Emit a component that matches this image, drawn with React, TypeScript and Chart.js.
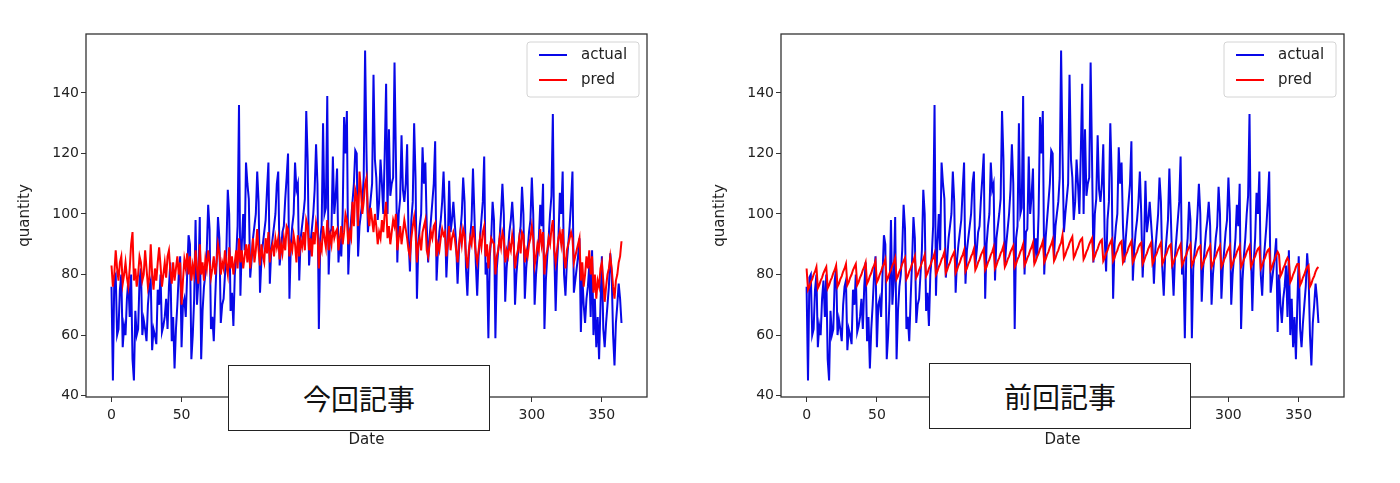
import React, { useEffect, useRef } from "react";
import { Chart, registerables } from "chart.js";

Chart.register(...registerables);

// ---------- data ----------
const DAYS: number[] = Array.from({ length: 365 }, (_, i) => i);
const X_TICKS = [0, 50, 100, 150, 200, 250, 300, 350];
const Y_TICKS = [40, 60, 80, 100, 120, 140];
const SERIES_LABELS = ["actual", "pred"];
const BOX_LABELS = ["今回記事", "前回記事"];

const ACTUAL = [
  76, 45, 79, 80, 60, 62, 75,
  80, 56, 63, 60, 72, 78, 66,
  80, 52, 45, 68, 60, 62, 78,
  82, 60, 65, 62, 58, 70, 76,
  78, 55, 62, 60, 57, 75, 70,
  80, 61, 63, 66, 72, 62, 76,
  84, 58, 66, 49, 62, 70, 80,
  86, 56, 70, 72, 66, 80, 93,
  90, 52, 60, 72, 98, 70, 78,
  99, 52, 68, 76, 80, 88, 103,
  95, 62, 66, 58, 72, 84, 99,
  92, 64, 70, 72, 80, 88, 108,
  100, 68, 74, 63, 80, 86, 96,
  136, 73, 90, 100, 88, 117, 110,
  105, 79, 85, 92, 96, 100, 114,
  104, 74, 85, 90, 94, 98, 108,
  117, 77, 88, 92, 96, 100, 110,
  114, 83, 88, 94, 96, 105, 112,
  120, 72, 90, 96, 100, 117, 108,
  110, 78, 92, 96, 100, 105, 134,
  118, 83, 90, 95, 100, 108, 123,
  110, 62, 92, 96, 130, 100, 102,
  139, 80, 94, 95, 119, 100, 106,
  115, 84, 92, 86, 100, 132, 120,
  134, 80, 92, 98, 104, 110, 121,
  120, 86, 96, 100, 104, 112, 154,
  120, 94, 100, 105, 110, 146, 118,
  112, 98, 104, 118, 110, 100, 120,
  143, 100, 128, 106, 110, 112, 150,
  118, 84, 100, 105, 126, 108, 104,
  110, 123, 92, 81, 98, 104, 130,
  112, 72, 90, 96, 100, 122, 110,
  117, 96, 84, 92, 98, 104, 110,
  124, 78, 88, 94, 98, 104, 114,
  100, 79, 90, 111, 94, 98, 104,
  97, 90, 77, 88, 94, 100, 112,
  104, 82, 73, 86, 92, 98, 115,
  100, 84, 73, 86, 92, 98, 104,
  119, 80, 84, 59, 86, 92, 104,
  98, 59, 82, 88, 92, 100, 110,
  100, 71, 82, 88, 94, 98, 104,
  96, 70, 80, 86, 92, 96, 109,
  100, 72, 82, 88, 94, 98, 112,
  100, 70, 80, 86, 92, 103, 96,
  110, 62, 78, 86, 92, 100, 106,
  133, 88, 68, 84, 92, 107, 100,
  114, 80, 73, 84, 90, 96, 104,
  114, 74, 78, 82, 86, 92, 61,
  80, 70, 64, 72, 76, 83, 66,
  88, 60, 72, 56, 66, 52, 70,
  86, 62, 56, 64, 70, 76, 87,
  80, 60, 50, 64, 70, 77, 72,
  64,
];

// prediction of the current article (left panel)
const PRED_NEW = [
  83, 76, 80, 88, 82, 78, 84,
  86, 77, 80, 84, 79, 76, 82,
  90, 94, 78, 82, 76, 80, 86,
  84, 78, 80, 88, 82, 76, 79,
  90, 80, 75, 82, 78, 84, 89,
  83, 76, 80, 84, 79, 86, 88,
  81, 77, 84, 78, 82, 86, 80,
  84, 70, 78, 85, 82, 87, 80,
  86, 78, 83, 80, 88, 82, 77,
  90, 80, 84, 78, 85, 82, 88,
  84, 79, 82, 86, 80, 84, 90,
  87, 80, 84, 82, 88, 83, 80,
  89, 82, 86, 80, 84, 88, 82,
  92, 84, 88, 82, 86, 90, 84,
  90, 82, 86, 92, 84, 88, 95,
  88, 83, 90, 86, 84, 92, 87,
  94, 84, 88, 90, 86, 92, 89,
  92, 85, 90, 87, 92, 88, 96,
  95, 86, 90, 88, 93, 90, 84,
  93, 86, 91, 89, 94, 88, 98,
  96, 88, 92, 86, 94, 90, 97,
  94, 82, 90, 88, 96, 92, 89,
  98, 88, 93, 90, 96, 92, 94,
  95, 88, 92, 96, 90, 94, 100,
  98, 90, 94, 92, 104, 96, 108,
  106, 96, 114, 108, 100, 104, 110,
  112, 100, 96, 102, 98, 94, 100,
  96, 90, 94, 92, 98, 94, 100,
  104, 92, 96, 90, 94, 98, 96,
  100, 88, 92, 96, 90, 94, 98,
  95, 92, 88, 86, 92, 96, 99,
  94, 84, 90, 92, 88, 94, 96,
  98, 88, 86, 90, 94, 92, 96,
  97, 86, 90, 88, 92, 95, 93,
  94, 86, 90, 96, 88, 92, 94,
  92, 88, 84, 90, 94, 90, 95,
  93, 86, 82, 88, 92, 90, 96,
  92, 87, 84, 88, 92, 89, 94,
  96, 86, 90, 82, 88, 92, 91,
  90, 80, 86, 88, 92, 89, 94,
  92, 84, 88, 86, 90, 88, 93,
  90, 82, 86, 88, 92, 87, 94,
  93, 84, 88, 86, 90, 92, 96,
  92, 83, 86, 90, 88, 95, 90,
  94, 80, 86, 88, 92, 90, 95,
  98, 88, 84, 88, 92, 94, 90,
  95, 86, 82, 88, 90, 92, 94,
  92, 84, 86, 88, 90, 92, 78,
  84, 76, 80, 86, 82, 88, 80,
  86, 74, 80, 72, 78, 76, 82,
  84, 78, 71, 76, 80, 82, 86,
  82, 76, 72, 78, 80, 84, 86,
  91,
];

// prediction of the previous article (right panel)
const PRED_OLD = [
  82, 75, 76, 77.5, 78.5, 80, 81,
  82.5, 75.5, 76.5, 78, 79, 80.5, 81.5,
  82.5, 75.5, 76.5, 78, 79, 80.5, 81.5,
  83, 76, 77, 78.5, 79.5, 81, 82,
  83.5, 76.5, 77.5, 79, 80, 81.5, 82.5,
  83.5, 76.5, 77.5, 79, 80, 81.5, 82.5,
  84, 77, 78, 79.5, 80.5, 82, 83,
  84.5, 77.5, 78.5, 80, 81, 82.5, 83.5,
  85, 78, 79, 80.5, 81.5, 83, 84,
  85.5, 78.5, 79.5, 81, 82, 83.5, 84.5,
  85.5, 78.5, 79.5, 81, 82, 83.5, 84.5,
  86, 79, 80, 81.5, 82.5, 84, 85,
  86.5, 79.5, 80.5, 82, 83, 84.5, 85.5,
  87, 80, 81, 82.5, 83.5, 85, 86,
  87.5, 80.5, 81.5, 83, 84, 85.5, 86.5,
  87.5, 80.5, 81.5, 83, 84, 85.5, 86.5,
  88, 81, 82, 83.5, 84.5, 86, 87,
  88.5, 81.5, 82.5, 84, 85, 86.5, 87.5,
  88.5, 81.5, 82.5, 84, 85, 86.5, 87.5,
  89, 82, 83, 84.5, 85.5, 87, 88,
  89.5, 82.5, 83.5, 85, 86, 87.5, 88.5,
  89.5, 82.5, 83.5, 85, 86, 87.5, 88.5,
  90, 83, 84, 85.5, 86.5, 88, 89,
  90.5, 83.5, 84.5, 86, 87, 88.5, 89.5,
  91, 84, 85, 86.5, 87.5, 89, 90,
  91.5, 84.5, 85.5, 87, 88, 89.5, 90.5,
  93, 85.5, 86.5, 88, 89, 90.5, 91.5,
  92.5, 85.5, 86.5, 88, 89, 90.5, 91.5,
  92, 85, 86, 87.5, 88.5, 90, 91,
  92, 85, 86, 87.5, 88.5, 90, 91,
  91.5, 84.5, 85.5, 87, 88, 89.5, 90.5,
  91.5, 84.5, 85.5, 87, 88, 89.5, 90.5,
  91, 84, 85, 86.5, 87.5, 89, 90,
  91, 84, 85, 86.5, 87.5, 89, 90,
  90.5, 83.5, 84.5, 86, 87, 88.5, 89.5,
  90.5, 83.5, 84.5, 86, 87, 88.5, 89.5,
  90.5, 83.5, 84.5, 86, 87, 88.5, 89.5,
  90, 83, 84, 85.5, 86.5, 88, 89,
  90, 83, 84, 85.5, 86.5, 88, 89,
  90, 83, 84, 85.5, 86.5, 88, 89,
  89.5, 82.5, 83.5, 85, 86, 87.5, 88.5,
  89.5, 82.5, 83.5, 85, 86, 87.5, 88.5,
  89.5, 82.5, 83.5, 85, 86, 87.5, 88.5,
  89.5, 82.5, 83.5, 85, 86, 87.5, 88.5,
  89.5, 82.5, 83.5, 85, 86, 87.5, 88.5,
  89.5, 82.5, 83.5, 85, 86, 87.5, 88.5,
  89, 82, 83, 84.5, 85.5, 87, 88,
  88.5, 81.5, 82.5, 84, 85, 86.5, 87.5,
  86.5, 79.5, 80.5, 82, 83, 84.5, 85.5,
  84.5, 77.5, 78.5, 80, 81, 82.5, 83.5,
  83.5, 76.5, 77.5, 79, 80, 81.5, 82.5,
  83, 76, 77, 78.5, 79.5, 81, 82,
  82.5,
];

// ---------- plugins ----------
const framePlugin = {
  id: "frame",
  afterDraw(chart: any) {
    const { ctx, chartArea } = chart;
    const { left, top, right, bottom } = chartArea;
    ctx.save();
    ctx.strokeStyle = "#333";
    ctx.lineWidth = 1.3;
    ctx.strokeRect(left, top, right - left, bottom - top);
    ctx.restore();
  },
};

const innerLegendPlugin = {
  id: "innerLegend",
  afterDraw(chart: any) {
    const { ctx, chartArea } = chart;
    const w = 112;
    const h = 55;
    const x = chartArea.right - 8 - w;
    const y = chartArea.top + 8;
    ctx.save();
    ctx.beginPath();
    const r = 3;
    ctx.moveTo(x + r, y);
    ctx.lineTo(x + w - r, y);
    ctx.quadraticCurveTo(x + w, y, x + w, y + r);
    ctx.lineTo(x + w, y + h - r);
    ctx.quadraticCurveTo(x + w, y + h, x + w - r, y + h);
    ctx.lineTo(x + r, y + h);
    ctx.quadraticCurveTo(x, y + h, x, y + h - r);
    ctx.lineTo(x, y + r);
    ctx.quadraticCurveTo(x, y, x + r, y);
    ctx.closePath();
    ctx.fillStyle = "rgba(255,255,255,0.85)";
    ctx.fill();
    ctx.strokeStyle = "#d4d4d4";
    ctx.lineWidth = 1;
    ctx.stroke();
    chart.data.datasets.forEach((ds: any, i: number) => {
      const cy = y + 13 + i * 25;
      ctx.beginPath();
      ctx.moveTo(x + 12, cy);
      ctx.lineTo(x + 40, cy);
      ctx.strokeStyle = ds.borderColor;
      ctx.lineWidth = 2;
      ctx.stroke();
      ctx.fillStyle = "#222";
      ctx.font = "15px 'DejaVu Sans'";
      ctx.textBaseline = "middle";
      ctx.textAlign = "left";
      ctx.fillText(ds.label, x + 54, cy);
    });
    ctx.restore();
  },
};

// ---------- chart ----------
function Panel(props: { pred: number[]; yAxisWidth: number; padRight: number; titlePad: number }) {
  const ref = useRef<HTMLCanvasElement | null>(null);
  useEffect(() => {
    if (!ref.current) return;
    const chart = new Chart(ref.current, {
      type: "line",
      data: {
        datasets: [
          {
            label: SERIES_LABELS[0],
            data: DAYS.map((d, i) => ({ x: d, y: ACTUAL[i] })),
            borderColor: "#0808e8",
            borderWidth: 2,
            pointRadius: 0,
            tension: 0,
            order: 2,
          },
          {
            label: SERIES_LABELS[1],
            data: DAYS.map((d, i) => ({ x: d, y: props.pred[i] })),
            borderColor: "#ff0000",
            borderWidth: 2,
            pointRadius: 0,
            tension: 0,
            order: 1,
          },
        ],
      },
      options: {
        animation: false,
        responsive: false,
        maintainAspectRatio: false,
        devicePixelRatio: 1,
        layout: { padding: { left: 0, top: 34, right: props.padRight, bottom: 0 } },
        plugins: { legend: { display: false }, tooltip: { enabled: false } },
        scales: {
          x: {
            type: "linear",
            min: -18.2,
            max: 382.2,
            afterBuildTicks: (s: any) => {
              s.ticks = X_TICKS.map((v) => ({ value: v }));
            },
            afterFit: (s: any) => {
              s.height = 86;
            },
            ticks: { color: "#222", font: { size: 14 }, padding: 5, maxRotation: 0, autoSkip: false },
            grid: { drawOnChartArea: false, drawTicks: true, tickLength: 5, color: "#333" },
            border: { display: false },
            title: { display: true, text: "Date", color: "#222", font: { size: 15 }, padding: { top: 0, bottom: 34 } },
          },
          y: {
            type: "linear",
            min: 39.55,
            max: 159.45,
            afterBuildTicks: (s: any) => {
              s.ticks = Y_TICKS.map((v) => ({ value: v }));
            },
            afterFit: (s: any) => {
              s.width = props.yAxisWidth;
            },
            ticks: { color: "#222", font: { size: 14 }, padding: 2, autoSkip: false },
            grid: { drawOnChartArea: false, drawTicks: true, tickLength: 5, color: "#333" },
            border: { display: false },
            title: { display: true, text: "quantity", color: "#222", font: { size: 15 }, padding: { top: props.titlePad, bottom: 0 } },
          },
        },
      },
      plugins: [framePlugin, innerLegendPlugin],
    } as any);
    return () => chart.destroy();
  }, []);
  return <canvas ref={ref} width={700} height={483} style={{ width: 700, height: 483, display: "block" }} />;
}

const boxStyle = (left: number, top: number): React.CSSProperties => ({
  position: "absolute",
  left,
  top,
  width: 262,
  height: 66,
  boxSizing: "border-box",
  border: "1.5px solid #222",
  background: "#fff",
  display: "flex",
  alignItems: "center",
  justifyContent: "center",
  fontFamily: "'Noto Sans CJK JP', sans-serif",
  fontSize: 28,
  color: "#111",
});

export default function App() {
  Chart.defaults.font.family = "'DejaVu Sans', sans-serif";
  return (
    <div style={{ position: "absolute", left: 0, top: 0, width: 1400, height: 483, background: "#fff", overflow: "hidden" }}>
      <div style={{ position: "absolute", left: 0, top: 0 }}>
        <Panel pred={PRED_NEW} yAxisWidth={86} padRight={53} titlePad={16} />
      </div>
      <div style={{ position: "absolute", left: 700, top: 0 }}>
        <Panel pred={PRED_OLD} yAxisWidth={81} padRight={56} titlePad={11} />
      </div>
      <div style={boxStyle(228, 365)}>{BOX_LABELS[0]}</div>
      <div style={boxStyle(929, 363)}>{BOX_LABELS[1]}</div>
    </div>
  );
}
